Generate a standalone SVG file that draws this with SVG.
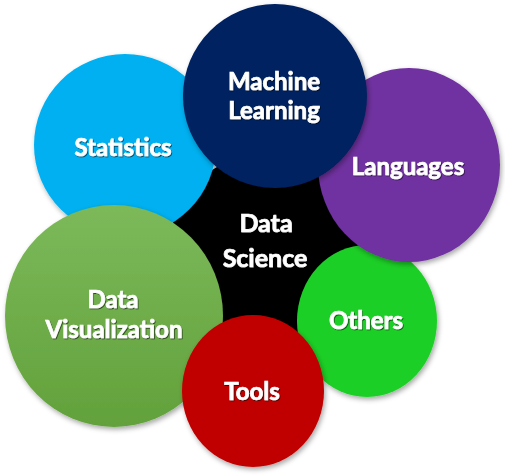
<svg xmlns="http://www.w3.org/2000/svg" width="505" height="475" viewBox="0 0 505 475">
<defs>
<filter id="sh" x="-20%" y="-20%" width="140%" height="140%">
<feDropShadow dx="1.5" dy="2.5" stdDeviation="2.5" flood-color="#000" flood-opacity="0.35"/>
</filter>
<filter id="ts" x="-10%" y="-30%" width="120%" height="160%">
<feDropShadow dx="0.8" dy="1" stdDeviation="0.6" flood-color="#000" flood-opacity="0.6"/>
</filter>
<linearGradient id="gv" x1="0" y1="0" x2="0" y2="1">
<stop offset="0" stop-color="#7cb95a"/>
<stop offset="1" stop-color="#62a13b"/>
</linearGradient>
</defs>
<style>
.c{filter:url(#sh)}
.t{font-family:Lato,"Open Sans","Liberation Sans",sans-serif;font-weight:bold;font-size:24px;fill:#fff;stroke:#fff;stroke-width:0.7;text-anchor:middle;filter:url(#ts)}
</style>
<rect width="505" height="475" fill="#fff"/>
<g id="data-science">
<circle class="c" cx="265" cy="250" r="96" fill="#000"/>
<text class="t" x="266" y="232" style="font-size:25px">Data</text>
<text class="t" x="265" y="267" style="font-size:25px">Science</text>
</g>
<g id="others">
<ellipse class="c" cx="367" cy="321" rx="70" ry="76" fill="#1ecf28"/>
<text class="t" x="366" y="329">Others</text>
</g>
<g id="languages">
<ellipse class="c" cx="409" cy="165" rx="91" ry="97" fill="#7030a0"/>
<text class="t" x="408" y="175">Languages</text>
</g>
<g id="statistics">
<circle class="c" cx="125" cy="145" r="91" fill="#00b0f0"/>
<text class="t" x="123" y="156">Statistics</text>
</g>
<g id="machine-learning">
<circle class="c" cx="275" cy="96" r="92" fill="#002060"/>
<text class="t" x="274" y="90">Machine</text>
<text class="t" x="274" y="119">Learning</text>
</g>
<g id="data-visualization">
<ellipse class="c" cx="114" cy="316" rx="109" ry="111" fill="url(#gv)"/>
<text class="t" x="113" y="308">Data</text>
<text class="t" x="114" y="338">Visualization</text>
</g>
<g id="tools">
<ellipse class="c" cx="253" cy="391" rx="71" ry="76" fill="#c00000"/>
<text class="t" x="252" y="400">Tools</text>
</g>
<g id="connectors"></g>
</svg>
